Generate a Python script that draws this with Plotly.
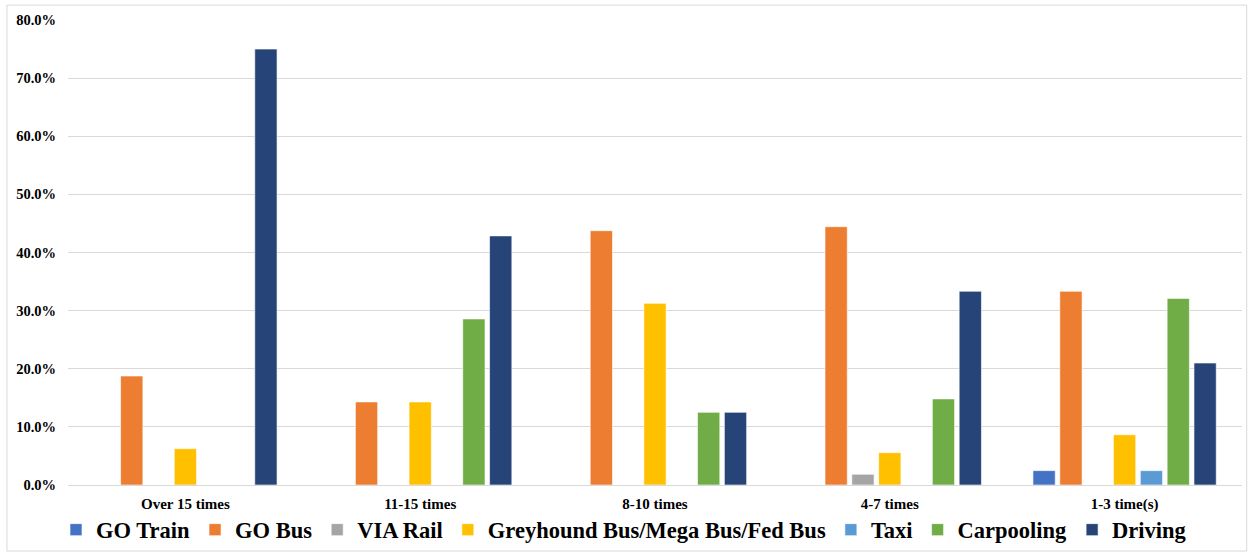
import plotly.graph_objects as go

categories = ["Over 15 times", "11-15 times", "8-10 times", "4-7 times", "1-3 time(s)"]
series_names = ["GO Train", "GO Bus", "VIA Rail", "Greyhound Bus/Mega Bus/Fed Bus", "Taxi", "Carpooling", "Driving"]
go_train = [0, 0, 0, 0, 2.47]
go_bus = [18.75, 14.29, 43.75, 44.44, 33.33]
via_rail = [0, 0, 0, 1.85, 0]
greyhound = [6.25, 14.29, 31.25, 5.56, 8.64]
taxi = [0, 0, 0, 0, 2.47]
carpooling = [0, 28.57, 12.5, 14.81, 32.10]
driving = [75.0, 42.86, 12.5, 33.33, 20.99]
y_ticks = [0, 10, 20, 30, 40, 50, 60, 70, 80]
colors = ["#4472C4", "#ED7D31", "#A5A5A5", "#FFC000", "#5B9BD5", "#70AD47", "#264478"]

values = [go_train, go_bus, via_rail, greyhound, taxi, carpooling, driving]
FONT = "Times New Roman, Liberation Serif, serif"

fig = go.Figure()
for name, vals, col in zip(series_names, values, colors):
    fig.add_trace(go.Bar(
        x=categories, y=vals, name="<b>" + name + "</b>",
        marker=dict(color=col, line=dict(color="rgba(255,255,255,0.6)", width=1)),
    ))

fig.update_layout(
    width=1249, height=554,
    margin=dict(l=68, r=7, t=20, b=69, autoexpand=False),
    paper_bgcolor="white", plot_bgcolor="white",
    barmode="group", bargap=0.2, bargroupgap=0.17,
    font=dict(family=FONT, color="black"),
    showlegend=True,
    legend=dict(orientation="h", xref="container", x=56 / 1249, xanchor="left",
                yref="container", y=(554 - 530) / 554, yanchor="middle",
                font=dict(size=22.5, family=FONT, color="black"),
                itemwidth=30, tracegroupgap=0, bgcolor="rgba(0,0,0,0)"),
    xaxis=dict(showgrid=False, showline=False, ticks="", ticklabelstandoff=8,
               tickvals=categories, ticktext=["<b>" + c + "</b>" for c in categories],
               tickfont=dict(size=15, family=FONT)),
    yaxis=dict(range=[0, 80],
               tickvals=y_ticks, ticktext=["<b>%.1f%%</b>" % v for v in y_ticks],
               showgrid=True, gridcolor="#D9D9D9", gridwidth=1,
               zeroline=True, zerolinecolor="#D9D9D9", zerolinewidth=1,
               showline=False, ticks="", ticklabelstandoff=11,
               tickfont=dict(size=14.5, family=FONT)),
    shapes=[dict(type="rect", xref="paper", yref="paper",
                 x0=-0.052, x1=1.004, y0=-0.142, y1=1.032,
                 line=dict(color="#D9D9D9", width=1), fillcolor="rgba(0,0,0,0)", layer="below")],
)

fig.write_html("out.html")
